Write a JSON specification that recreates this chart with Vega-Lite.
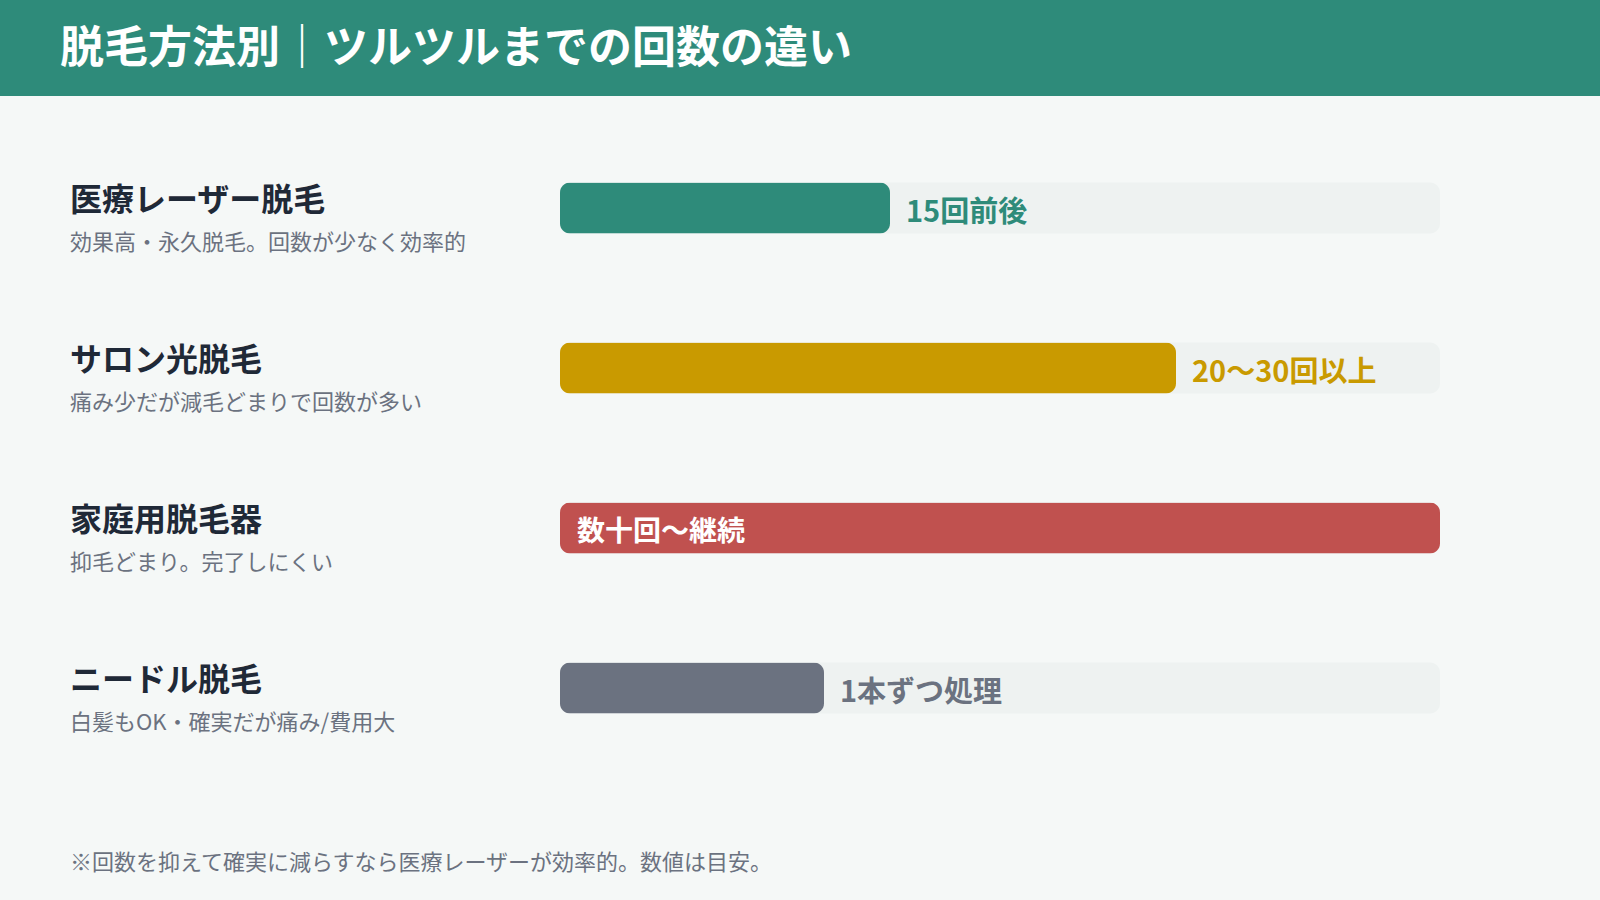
{
  "$schema": "https://vega.github.io/schema/vega-lite/v6.json",
  "description": "Number of sessions until smooth skin, by hair removal method",
  "width": 1600,
  "height": 900,
  "autosize": "none",
  "padding": 0,
  "background": "#F5F8F7",
  "config": {
    "view": {"stroke": null},
    "font": "Noto Sans CJK JP",
    "text": {"font": "Noto Sans CJK JP"}
  },
  "data": {
    "values": [
      {"method": "医療レーザー脱毛", "desc": "効果高・永久脱毛。回数が少なく効率的", "value": 15, "label": "15回前後"},
      {"method": "サロン光脱毛", "desc": "痛み少だが減毛どまりで回数が多い", "value": 28, "label": "20〜30回以上"},
      {"method": "家庭用脱毛器", "desc": "抑毛どまり。完了しにくい", "value": 40, "label": "数十回〜継続"},
      {"method": "ニードル脱毛", "desc": "白髪もOK・確実だが痛み/費用大", "value": 12, "label": "1本ずつ処理"}
    ]
  },
  "encoding": {
    "y": {
      "field": "method",
      "type": "nominal",
      "sort": null,
      "axis": null,
      "scale": {"range": [128, 768], "paddingInner": 0.68, "paddingOuter": 0.34}
    }
  },
  "layer": [
    {
      "data": {"values": [{"title": "脱毛方法別｜ツルツルまでの回数の違い"}]},
      "mark": {"type": "rect", "color": "#2E8B7A"},
      "encoding": {
        "x": {"value": 0},
        "x2": {"value": 1600},
        "y": {"value": 0},
        "y2": {"value": 96}
      }
    },
    {
      "data": {"values": [{"title": "脱毛方法別｜ツルツルまでの回数の違い"}]},
      "mark": {"type": "text", "align": "left", "baseline": "alphabetic", "fontSize": 44, "fontWeight": "bold", "color": "#FFFFFF"},
      "encoding": {
        "text": {"field": "title"},
        "x": {"value": 60},
        "y": {"value": 63}
      }
    },
    {
      "data": {"values": [{"note": "※回数を抑えて確実に減らすなら医療レーザーが効率的。数値は目安。"}]},
      "mark": {"type": "text", "align": "left", "baseline": "alphabetic", "fontSize": 22, "color": "#6B7280"},
      "encoding": {
        "text": {"field": "note"},
        "x": {"value": 70},
        "y": {"value": 870}
      }
    },
    {
      "mark": {"type": "bar", "cornerRadius": 10, "color": "#EEF2F1"},
      "encoding": {
        "x": {"datum": 40, "type": "quantitative", "axis": null, "scale": {"domain": [0, 40], "range": [560, 1440]}}
      }
    },
    {
      "mark": {"type": "bar", "cornerRadius": 10},
      "encoding": {
        "x": {"field": "value", "type": "quantitative", "axis": null},
        "color": {
          "field": "method",
          "type": "nominal",
          "legend": null,
          "scale": {
            "domain": ["医療レーザー脱毛", "サロン光脱毛", "家庭用脱毛器", "ニードル脱毛"],
            "range": ["#2E8B7A", "#C99A00", "#C0514F", "#6B7280"]
          }
        }
      }
    },
    {
      "transform": [{"filter": "datum.value < 40"}],
      "mark": {"type": "text", "align": "left", "baseline": "middle", "dx": 16, "dy": 5, "fontSize": 29, "fontWeight": "bold"},
      "encoding": {
        "x": {"field": "value", "type": "quantitative"},
        "text": {"field": "label"},
        "color": {"field": "method", "type": "nominal", "legend": null}
      }
    },
    {
      "transform": [{"filter": "datum.value >= 40"}],
      "mark": {"type": "text", "align": "left", "baseline": "middle", "dx": 17, "dy": 5, "fontSize": 28, "fontWeight": "bold", "color": "#FFFFFF"},
      "encoding": {
        "x": {"datum": 0, "type": "quantitative"},
        "text": {"field": "label"}
      }
    },
    {
      "mark": {"type": "text", "align": "left", "baseline": "alphabetic", "dy": 3, "fontSize": 32, "fontWeight": "bold", "color": "#1F2937"},
      "encoding": {
        "x": {"value": 70},
        "text": {"field": "method"}
      }
    },
    {
      "mark": {"type": "text", "align": "left", "baseline": "alphabetic", "dy": 42, "fontSize": 22, "color": "#6B7280"},
      "encoding": {
        "x": {"value": 70},
        "text": {"field": "desc"}
      }
    }
  ]
}
